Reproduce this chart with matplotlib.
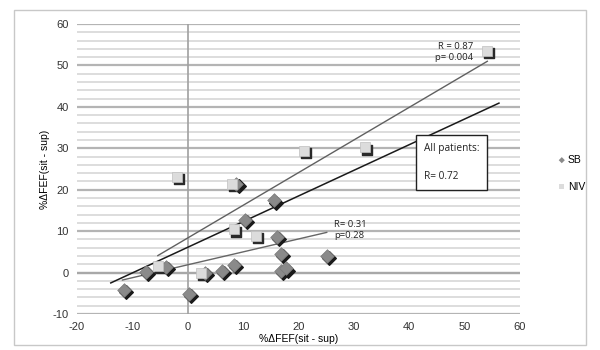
import matplotlib
matplotlib.use("Agg")
import matplotlib.pyplot as plt
import matplotlib.transforms as mtransforms
from matplotlib.patches import Rectangle
import numpy as np

plt.rcParams['axes.unicode_minus'] = False
plt.rcParams['font.family'] = ['Liberation Sans', 'DejaVu Sans']

# SB points
sb_x = [-11.6, -7.6, -4.0, 0.2, 3.1, 6.1, 8.3, 8.8, 10.3, 15.5, 16.1, 16.8, 16.8, 17.7, 25.1]
sb_y = [-4.3, 0.2, 1.4, -5.1, -0.2, 0.5, 1.9, 21.3, 12.6, 17.4, 8.5, 4.6, 0.5, 1.0, 3.9]

# NIV points
niv_x = [-2.0, 8.0, 21.0, 32.0, 54.1, 8.3, 12.3, 2.4, -5.3]
niv_y = [23.0, 21.3, 29.3, 30.2, 53.6, 10.4, 8.8, -0.2, 1.6]

# trend lines (end points)
niv_fit_x = [-5.4, 54.1]
niv_fit_y = [4.1, 51.0]
all_fit_x = [-13.9, 56.2]
all_fit_y = [-2.5, 40.9]
sb_fit_x = [-11.8, 25.1]
sb_fit_y = [-1.8, 9.7]

xticks = [-20, -10, 0, 10, 20, 30, 40, 50, 60]
yticks = [-10, 0, 10, 20, 30, 40, 50, 60]

fig = plt.figure(figsize=(6, 3.5), dpi=100)
ax = fig.add_axes([77/600, 1-314/350, 443/600, 290/350])

# outer chart frame
fig.patches.append(Rectangle((14/600, 5/350), 572/600, 335/350, transform=fig.transFigure,
                             fill=False, edgecolor='#c8c8c8', linewidth=1))

ax.set_xlim(-20, 60)
ax.set_ylim(-10, 60)
for y in np.arange(-10, 61, 2):
    if y % 10 == 0:
        ax.axhline(y, color='#b4b4b4', linewidth=1.6, zorder=0)
    else:
        ax.axhline(y, color='#dadada', linewidth=1.3, zorder=0)
ax.axvline(0, color='#a0a0a0', linewidth=1.2, zorder=1)
ax.axhline(0, color='#a8a8a8', linewidth=1.6, zorder=1)

for s in ax.spines.values():
    s.set_visible(False)
ax.set_xticks(xticks)
ax.set_yticks(yticks)
ax.tick_params(length=0, labelsize=8, colors='#333333', pad=6)

# trendlines
ax.plot(niv_fit_x, niv_fit_y, color='#606060', linewidth=1.0, zorder=2)
ax.plot(all_fit_x, all_fit_y, color='#1a1a1a', linewidth=1.1, zorder=2)
ax.plot(sb_fit_x, sb_fit_y, color='#666666', linewidth=1.0, zorder=2)

# shadows
shadow = mtransforms.offset_copy(ax.transData, fig=fig, x=1.5, y=-1.5, units='points')
ax.scatter(sb_x, sb_y, marker='D', s=48, color='#1a1a1a', transform=shadow, zorder=3)
ax.scatter(niv_x, niv_y, marker='s', s=62, color='#2a2a2a', transform=shadow, zorder=3)
ax.scatter(sb_x, sb_y, marker='D', s=48, color='#8a8a8a', edgecolor='#7a7a7a', linewidth=0.5, zorder=4, label='SB')
ax.scatter(niv_x, niv_y, marker='s', s=62, color='#dcdcdc', edgecolor='#c0c0c0', linewidth=0.5, zorder=4, label='NIV')

tfont = dict(family=['Open Sans', 'DejaVu Sans'], fontsize=6.8, color='#222222')
ax.text(51.5, 53.2, 'R = 0.87\np= 0.004', ha='right', va='center', linespacing=1.3, zorder=5, **tfont)
ax.text(26.5, 10.3, 'R= 0.31\np=0.28', ha='left', va='center', linespacing=1.3, zorder=5, **tfont)
ax.text(42.6, 26.5, 'All patients:\n\nR= 0.72', ha='left', va='center', linespacing=1.4, zorder=6,
        bbox=dict(boxstyle='square,pad=0.75', facecolor='white', edgecolor='#222222', linewidth=1),
        family=['Open Sans', 'DejaVu Sans'], fontsize=7.3, color='#222222')

ax.set_xlabel('%ΔFEF(sit - sup)', fontsize=7.5, labelpad=1)
ax.set_ylabel('%ΔFEF(sit - sup)', fontsize=7.5, labelpad=2)

leg = fig.legend(loc='center left', bbox_to_anchor=(0.912, 0.505), frameon=False, fontsize=7.5,
                 handletextpad=0.1, labelspacing=1.6, markerscale=0.45, handlelength=1)
for h in leg.legend_handles:
    h.set_edgecolor('none')

fig.savefig('out.png', dpi=100)
